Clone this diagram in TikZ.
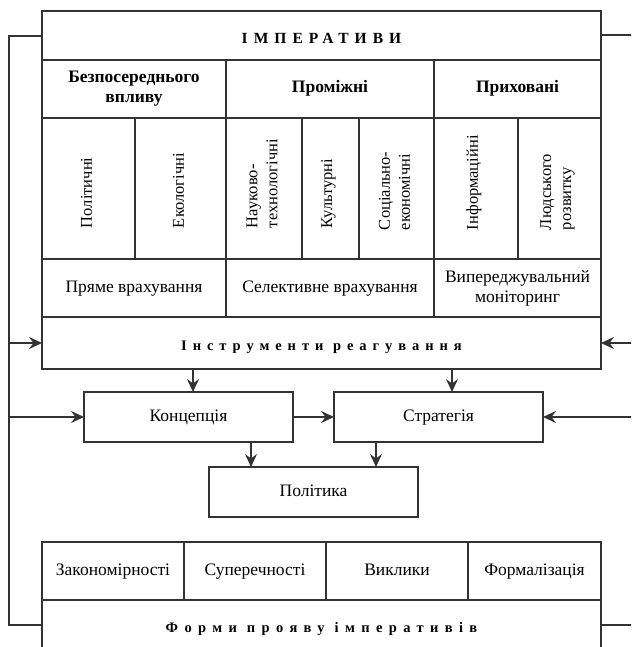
\documentclass[tikz,border=0pt]{standalone}
\usepackage{fontspec}
\setmainfont{Liberation Serif}
\usetikzlibrary{arrows.meta,calc}
\newcommand\fsreg{\fontsize{17.5}{20}\selectfont}
\newcommand\fsvert{\fontsize{16.5}{20}\selectfont}
\newcommand\fsbold{\fontsize{17.5}{20}\selectfont\bfseries}
\newcommand\fsspaced{\fontsize{14.5}{17}\selectfont\bfseries\addfontfeatures{LetterSpace=41}}
\newcommand\fsspacedb{\fontsize{14.5}{17}\selectfont\bfseries\addfontfeatures{LetterSpace=44}}
\newcommand\fsspacedtop{\fontsize{15.5}{18}\selectfont\bfseries\addfontfeatures{LetterSpace=39}}
\tikzset{
  ln/.style={line width=1.5pt, draw=black!80},
  cell/.style={ln, rectangle, inner sep=0pt, outer sep=0pt, anchor=north west, align=center, font=\fsreg},
  vtext/.style={inner sep=0pt, outer sep=0pt, rotate=90, anchor=west, align=left, font=\fsvert},
  arr/.style={ln, -{Stealth[length=13pt,width=12pt,inset=4.5pt]}},
}
\newcommand\mycell[6]{\node[cell, minimum width={#4-#2}, minimum height={#5-#3}] (#1) at (#2,#3) {\strut #6\strut};}
\begin{document}
\begin{tikzpicture}[x=1pt,y=-1pt]
\useasboundingbox (0,0) rectangle (631,647);
\clip (0,0) rectangle (631,647);
% top table
\mycell{imp}{42}{11}{601}{60}{\fsspacedtop\raisebox{-4pt}{ІМПЕРАТИВИ}}
\mycell{h1}{42}{60}{226}{118}{\fsbold Безпосереднього\\\fsbold впливу}
\mycell{h2}{226}{60}{434}{118}{\fsbold Проміжні}
\mycell{h3}{434}{60}{601}{118}{\fsbold Приховані}
\mycell{v1}{42}{118}{135}{259}{}
\mycell{v2}{135}{118}{226}{259}{}
\mycell{v3}{226}{118}{302}{259}{}
\mycell{v4}{302}{118}{359}{259}{}
\mycell{v5}{359}{118}{434}{259}{}
\mycell{v6}{434}{118}{518}{259}{}
\mycell{v7}{518}{118}{601}{259}{}
\node[vtext] (t1) at ($(v1.south)+(-2,-31)$) {Політичні};
\node[vtext] (t2) at ($(v2.south)+(-2,-31)$) {Екологічні};
\node[vtext] (t3) at ($(v3.south)+(-2,-31)$) {Науково-\\технологічні};
\node[vtext] (t4) at ($(v4.south)+(-2,-31)$) {Культурні};
\node[vtext] (t5) at ($(v5.south)+(-2,-29)$) {Соціально-\\економічні};
\node[vtext] (t6) at ($(v6.south)+(-2,-29)$) {Інформаційні};
\node[vtext] (t7) at ($(v7.south)+(-2,-29)$) {Людського\\розвитку};
\mycell{r1}{42}{259}{226}{317}{Пряме врахування}
\mycell{r2}{226}{259}{434}{317}{Селективне врахування}
\mycell{r3}{434}{259}{601}{317}{Випереджувальний\\моніторинг}
\mycell{instr}{42}{317}{601}{369}{\fsspaced\raisebox{-3.5pt}{Інструменти реагування}}
% middle boxes
\mycell{konc}{84}{392}{293}{442}{Концепція}
\mycell{strat}{334}{392}{543}{442}{Стратегія}
\mycell{pol}{209}{467}{418}{517}{Політика}
% bottom table
\mycell{f1}{42}{542}{184}{600}{Закономірності}
\mycell{f2}{184}{542}{326}{600}{Суперечності}
\mycell{f3}{326}{542}{468}{600}{Виклики}
\mycell{f4}{468}{542}{601}{600}{Формалізація}
\mycell{forms}{42}{600}{601}{655}{\fsspacedb\raisebox{-1pt}{Форми прояву імперативів}}
% connectors
\coordinate (LT) at (9,36);
\coordinate (LB) at (9,625);
\coordinate (RT) at (640,35);
\coordinate (RB) at (640,625);
\draw[ln] (imp.west |- LT) -- (LT) -- (LB) -- (forms.west |- LB);
\draw[ln] (imp.east |- RT) -- (RT);
\draw[ln] (forms.east |- RB) -- (RB);
\draw[arr] (instr.west -| LT) -- (instr.west);
\draw[arr] (konc.west -| LT) -- (konc.west);
\draw[arr] (instr.east -| RT) -- (instr.east);
\draw[arr] (strat.east -| RT) -- (strat.east);
\coordinate (d1) at (193,0);
\coordinate (d2) at (452,0);
\coordinate (d3) at (251,0);
\coordinate (d4) at (376,0);
\draw[arr] (instr.south -| d1) -- (konc.north -| d1);
\draw[arr] (instr.south -| d2) -- (strat.north -| d2);
\draw[arr] (konc.east) -- (strat.west);
\draw[arr] (konc.south -| d3) -- (pol.north -| d3);
\draw[arr] (strat.south -| d4) -- (pol.north -| d4);
\end{tikzpicture}
\end{document}
